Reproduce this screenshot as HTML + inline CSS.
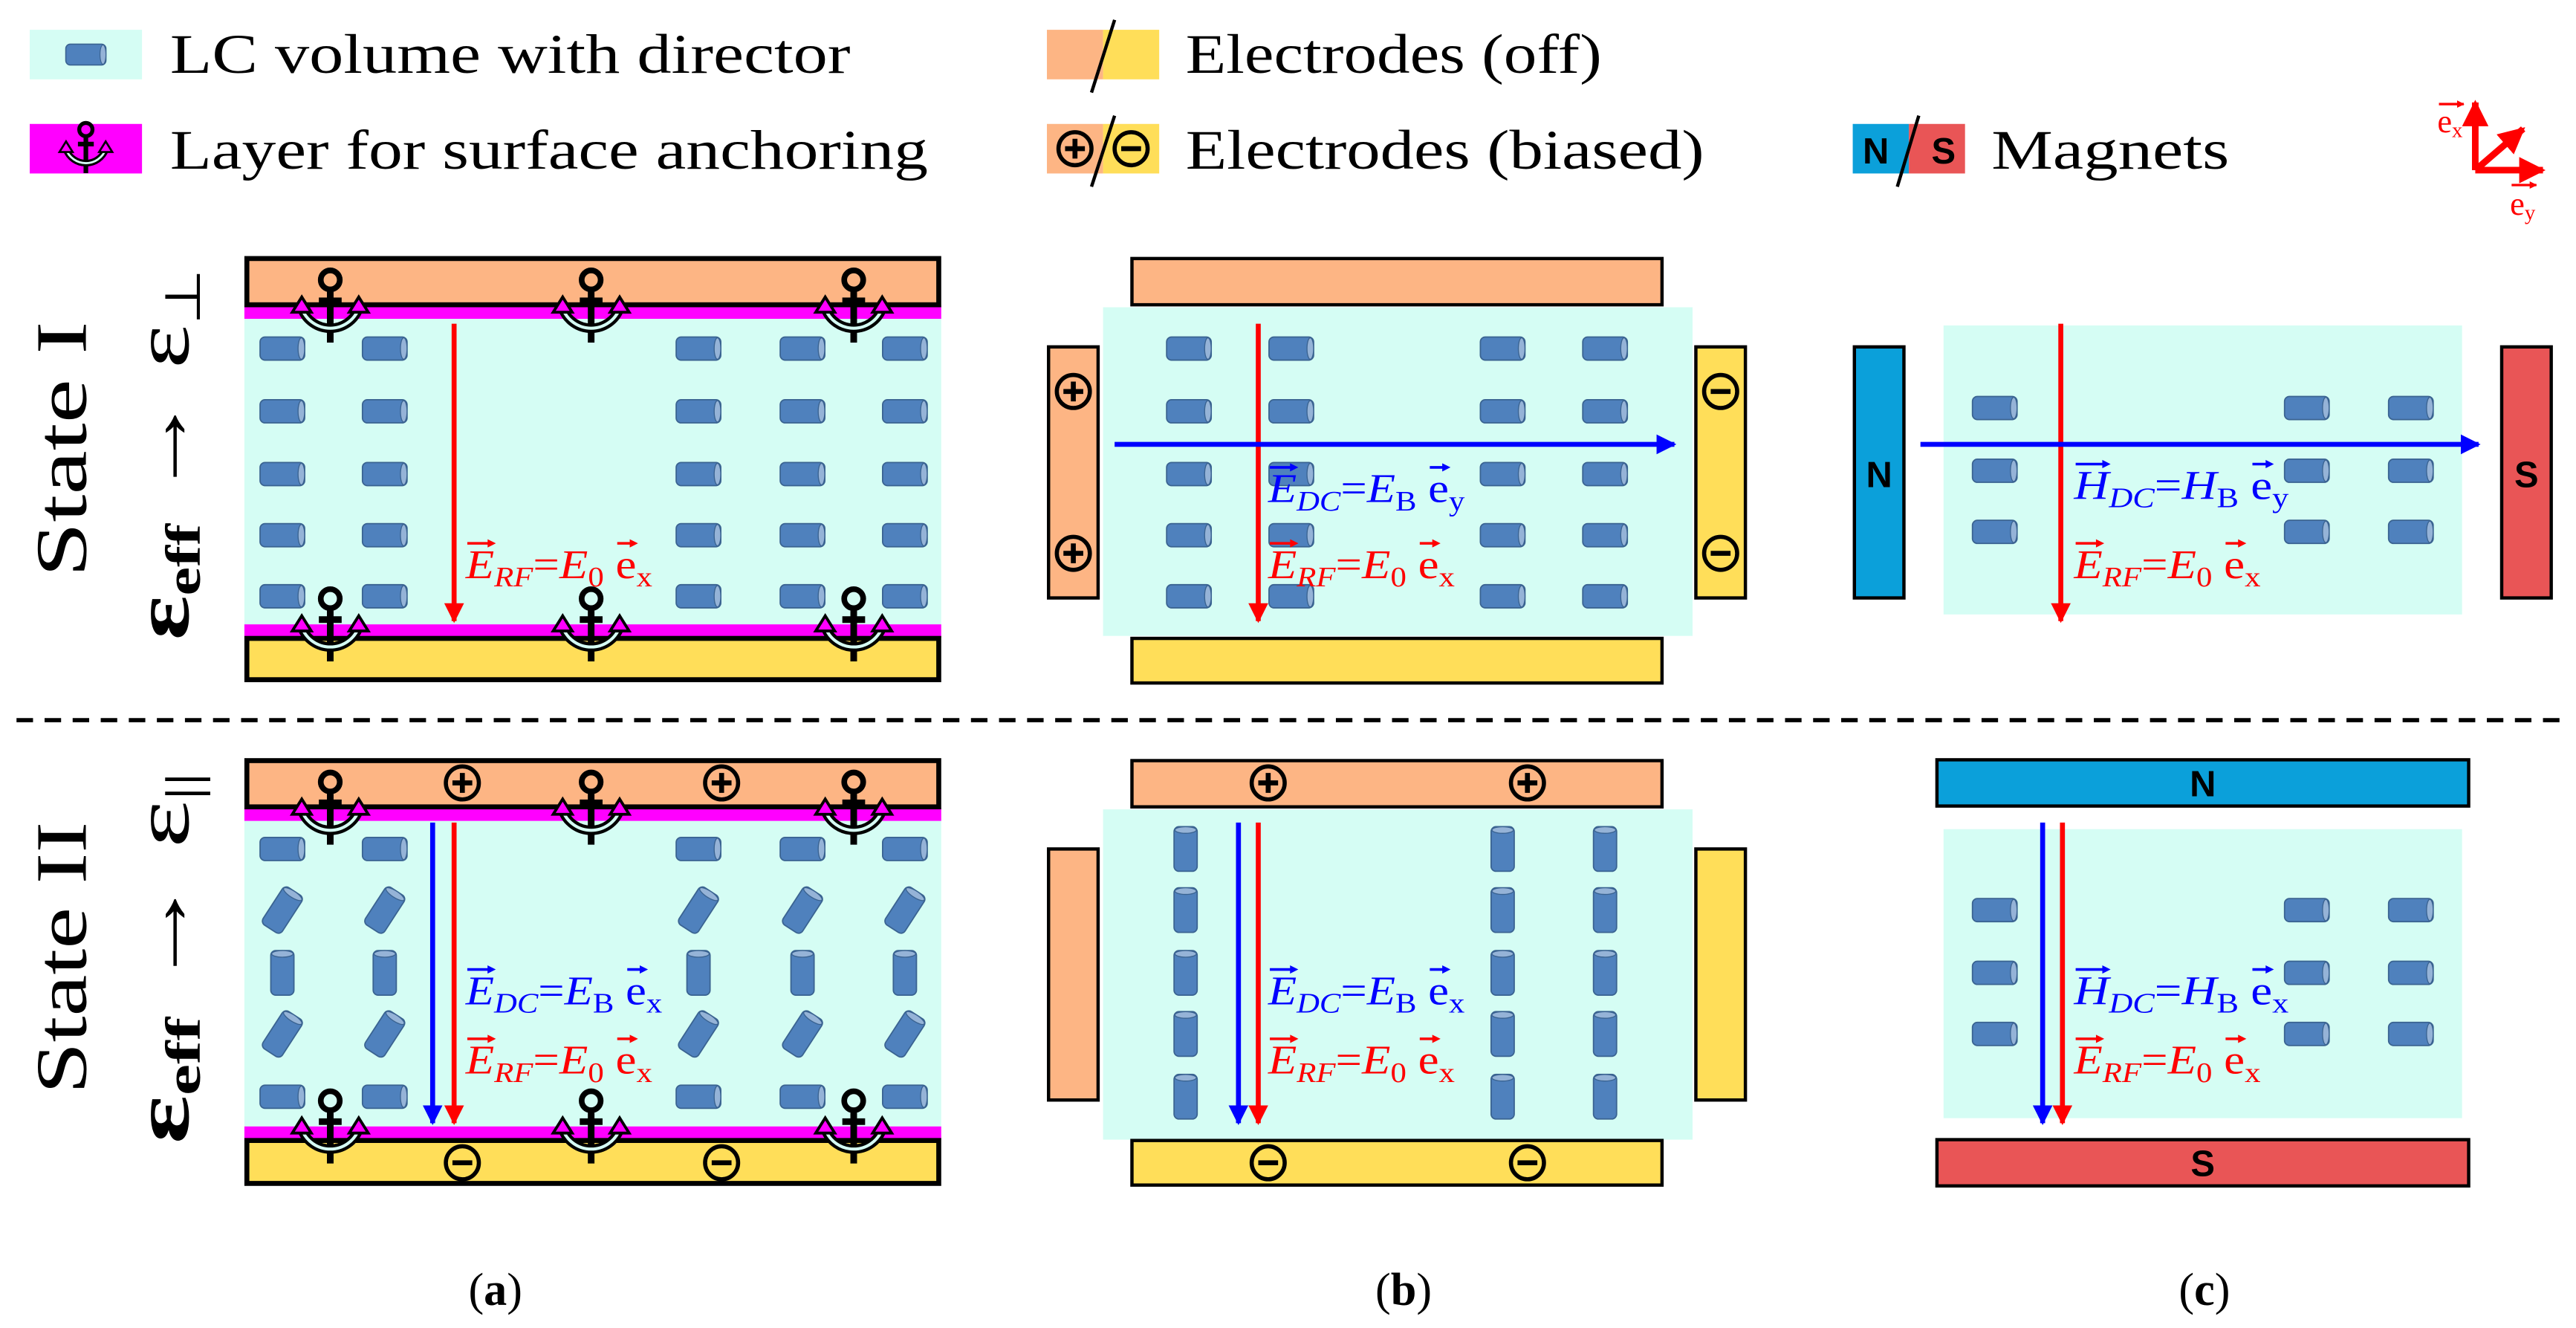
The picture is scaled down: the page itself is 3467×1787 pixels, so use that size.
<!DOCTYPE html>
<html><head><meta charset="utf-8">
<style>
html,body{margin:0;padding:0;background:#fff}
svg{display:block}
text{font-family:"Liberation Serif",serif}
.s{font-family:"Liberation Sans",sans-serif;font-weight:bold}
</style></head>
<body>
<svg id="s" width="3467" height="1787" viewBox="0 0 1560 804" xmlns="http://www.w3.org/2000/svg">
<defs>
<g id="mh"><rect x="-13.5" y="-7" width="27" height="14" rx="3" fill="#4F81BD" stroke="#3A6391" stroke-width="0.8"/><ellipse cx="11.5" cy="0" rx="2" ry="6.5" fill="#95B3D7" stroke="#3A6391" stroke-width="0.6"/></g>
<g id="pl"><circle r="10" fill="none" stroke="#000" stroke-width="2.5"/><path d="M-6 0H6M0 -6V6" stroke="#000" stroke-width="3"/></g>
<g id="mi"><circle r="10" fill="none" stroke="#000" stroke-width="2.5"/><path d="M-6 0H6" stroke="#000" stroke-width="3"/></g>
<g id="anc"><circle cx="0" cy="-17" r="5" fill="none" stroke="#000" stroke-width="3"/><path d="M0 -12V16M-6 -6H6" stroke="#000" stroke-width="3.5"/><path d="M-15 -2 A16 16 0 0 0 15 -2" fill="none" stroke="#000" stroke-width="5"/><path d="M-15 -2 A16 16 0 0 0 15 -2" fill="none" stroke="#D5FDF4" stroke-width="1.6"/><path d="M-20 0 L-15 -8 L-10 0Z M10 0 L15 -8 L20 0Z" fill="#FF00FF" stroke="#000" stroke-width="1.5"/></g>
<marker id="ar" viewBox="0 0 10 10" refX="9" refY="5" markerWidth="4" markerHeight="4" orient="auto"><path d="M0 0L10 5L0 10Z" fill="red"/></marker>
<marker id="ab" viewBox="0 0 10 10" refX="9" refY="5" markerWidth="4" markerHeight="4" orient="auto"><path d="M0 0L10 5L0 10Z" fill="blue"/></marker>
<marker id="ar2" viewBox="0 0 10 10" refX="9" refY="5" markerWidth="3" markerHeight="3" orient="auto"><path d="M0 0L10 5L0 10Z" fill="red"/></marker>
</defs>

<!-- legend -->
<rect x="18" y="18" width="68" height="30" fill="#D5FDF4"/>
<use href="#mh" transform="translate(52,33) scale(0.9)"/>
<text x="103" y="44" font-size="34" textLength="412" lengthAdjust="spacingAndGlyphs">LC volume with director</text>
<rect x="18" y="75" width="68" height="30" fill="#FF00FF"/>
<use href="#anc" transform="translate(52,92) scale(0.8)"/>
<text x="103" y="102" font-size="34" textLength="459" lengthAdjust="spacingAndGlyphs">Layer for surface anchoring</text>
<rect x="634" y="18" width="34" height="30" fill="#FDB584"/><rect x="668" y="18" width="34" height="30" fill="#FFDE59"/>
<line x1="675" y1="12" x2="661" y2="56" stroke="#000" stroke-width="2"/>
<text x="718" y="44" font-size="34" textLength="252" lengthAdjust="spacingAndGlyphs">Electrodes (off)</text>
<rect x="634" y="75" width="34" height="30" fill="#FDB584"/><rect x="668" y="75" width="34" height="30" fill="#FFDE59"/>
<use href="#pl" transform="translate(651,90)"/><use href="#mi" transform="translate(685,90)"/>
<line x1="675" y1="70" x2="661" y2="113" stroke="#000" stroke-width="2"/>
<text x="718" y="102" font-size="34" textLength="314" lengthAdjust="spacingAndGlyphs">Electrodes (biased)</text>
<rect x="1122" y="75" width="34" height="30" fill="#0BA0DA"/><rect x="1156" y="75" width="34" height="30" fill="#E95556"/>
<text class="s" x="1136" y="99" font-size="22" text-anchor="middle">N</text><text class="s" x="1177" y="99" font-size="22" text-anchor="middle">S</text>
<line x1="1162" y1="70" x2="1149" y2="113" stroke="#000" stroke-width="2"/>
<text x="1206" y="102" font-size="34" textLength="144" lengthAdjust="spacingAndGlyphs">Magnets</text>
<!-- axes -->
<g stroke="red" stroke-width="4" fill="none"><line x1="1499" y1="103" x2="1499" y2="62" marker-end="url(#ar)"/><line x1="1499" y1="103" x2="1540" y2="103" marker-end="url(#ar)"/><line x1="1499" y1="103" x2="1528" y2="78" marker-end="url(#ar)"/></g>
<text x="1476" y="80" font-size="20" fill="red">e<tspan font-size="13" dy="3">x</tspan></text>
<line x1="1477" y1="63" x2="1492" y2="63" stroke="red" stroke-width="1.5" marker-end="url(#ar2)"/>
<text x="1520" y="130" font-size="20" fill="red">e<tspan font-size="13" dy="3">y</tspan></text>
<line x1="1521" y1="112" x2="1536" y2="112" stroke="red" stroke-width="1.5" marker-end="url(#ar2)"/>

<!-- state labels -->
<text transform="translate(52,272) rotate(-90)" font-size="44" text-anchor="middle" textLength="155" lengthAdjust="spacingAndGlyphs">State I</text>
<text transform="translate(114,275) rotate(-90)" font-size="48" text-anchor="middle" textLength="225" lengthAdjust="spacingAndGlyphs"><tspan font-weight="bold">ε<tspan font-size="30" dy="7">eff</tspan></tspan><tspan dy="-7"> → ε</tspan><tspan font-size="30" dy="7">⊥</tspan></text>
<text transform="translate(52,580) rotate(-90)" font-size="44" text-anchor="middle" textLength="165" lengthAdjust="spacingAndGlyphs">State II</text>
<text transform="translate(114,580) rotate(-90)" font-size="48" text-anchor="middle" textLength="225" lengthAdjust="spacingAndGlyphs"><tspan font-weight="bold">ε<tspan font-size="30" dy="7">eff</tspan></tspan><tspan dy="-7"> → ε</tspan><tspan font-size="30" dy="7">||</tspan></text>

<line x1="10" y1="436" x2="1550" y2="436" stroke="#000" stroke-width="2.5" stroke-dasharray="10,7"/>

<!-- panel a I -->
<rect x="148" y="193" width="422" height="185" fill="#D5FDF4"/>
<rect x="148" y="185" width="422" height="8" fill="#FF00FF"/>
<rect x="148" y="378" width="422" height="8" fill="#FF00FF"/>
<rect x="149.5" y="156.5" width="419" height="28" fill="#FDB584" stroke="#000" stroke-width="3"/>
<rect x="149.5" y="386.5" width="419" height="25" fill="#FFDE59" stroke="#000" stroke-width="3"/>
<g id="ma1"></g>
<line x1="275" y1="196" x2="275" y2="376" stroke="red" stroke-width="3" marker-end="url(#ar)"/>
<text class="eq" x="282" y="350" font-size="25" fill="red" textLength="113" lengthAdjust="spacingAndGlyphs"><tspan font-style="italic">E</tspan><tspan font-style="italic" font-size="17" dy="5">RF</tspan><tspan dy="-5">=</tspan><tspan font-style="italic">E</tspan><tspan font-size="17" dy="5">0</tspan><tspan dy="-5"> e</tspan><tspan font-size="17" dy="5">x</tspan></text>

<!-- panel a II -->
<rect x="148" y="497" width="422" height="185" fill="#D5FDF4"/>
<rect x="148" y="489" width="422" height="8" fill="#FF00FF"/>
<rect x="148" y="682" width="422" height="8" fill="#FF00FF"/>
<rect x="149.5" y="460.5" width="419" height="28" fill="#FDB584" stroke="#000" stroke-width="3"/>
<rect x="149.5" y="690.5" width="419" height="26" fill="#FFDE59" stroke="#000" stroke-width="3"/>
<use href="#pl" transform="translate(280,474)"/><use href="#pl" transform="translate(437,474)"/>
<use href="#mi" transform="translate(280,704)"/><use href="#mi" transform="translate(437,704)"/>
<g id="ma2"></g>
<line x1="262" y1="498" x2="262" y2="680" stroke="blue" stroke-width="3" marker-end="url(#ab)"/>
<line x1="275" y1="498" x2="275" y2="680" stroke="red" stroke-width="3" marker-end="url(#ar)"/>
<text class="eq" x="282" y="608" font-size="25" fill="blue" textLength="119" lengthAdjust="spacingAndGlyphs"><tspan font-style="italic">E</tspan><tspan font-style="italic" font-size="17" dy="5">DC</tspan><tspan dy="-5">=</tspan><tspan font-style="italic">E</tspan><tspan font-size="17" dy="5">B</tspan><tspan dy="-5"> e</tspan><tspan font-size="17" dy="5">x</tspan></text>
<text class="eq" x="282" y="650" font-size="25" fill="red" textLength="113" lengthAdjust="spacingAndGlyphs"><tspan font-style="italic">E</tspan><tspan font-style="italic" font-size="17" dy="5">RF</tspan><tspan dy="-5">=</tspan><tspan font-style="italic">E</tspan><tspan font-size="17" dy="5">0</tspan><tspan dy="-5"> e</tspan><tspan font-size="17" dy="5">x</tspan></text>

<!-- panel b I -->
<rect x="668" y="186" width="357" height="199" fill="#D5FDF4"/>
<rect x="685.5" y="156.5" width="321" height="28" fill="#FDB584" stroke="#000" stroke-width="2"/>
<rect x="685.5" y="386.5" width="321" height="27" fill="#FFDE59" stroke="#000" stroke-width="2"/>
<rect x="635" y="210" width="30" height="152" fill="#FDB584" stroke="#000" stroke-width="2"/>
<rect x="1027" y="210" width="30" height="152" fill="#FFDE59" stroke="#000" stroke-width="2"/>
<use href="#pl" transform="translate(650,237)"/><use href="#pl" transform="translate(650,335)"/>
<use href="#mi" transform="translate(1042,237)"/><use href="#mi" transform="translate(1042,335)"/>
<g id="mb1"></g>
<line x1="762" y1="196" x2="762" y2="376" stroke="red" stroke-width="3" marker-end="url(#ar)"/>
<line x1="675" y1="269" x2="1014" y2="269" stroke="blue" stroke-width="3" marker-end="url(#ab)"/>
<text class="eq" x="768" y="304" font-size="25" fill="blue" textLength="119" lengthAdjust="spacingAndGlyphs"><tspan font-style="italic">E</tspan><tspan font-style="italic" font-size="17" dy="5">DC</tspan><tspan dy="-5">=</tspan><tspan font-style="italic">E</tspan><tspan font-size="17" dy="5">B</tspan><tspan dy="-5"> e</tspan><tspan font-size="17" dy="5">y</tspan></text>
<text class="eq" x="768" y="350" font-size="25" fill="red" textLength="113" lengthAdjust="spacingAndGlyphs"><tspan font-style="italic">E</tspan><tspan font-style="italic" font-size="17" dy="5">RF</tspan><tspan dy="-5">=</tspan><tspan font-style="italic">E</tspan><tspan font-size="17" dy="5">0</tspan><tspan dy="-5"> e</tspan><tspan font-size="17" dy="5">x</tspan></text>

<!-- panel b II -->
<rect x="668" y="490" width="357" height="200" fill="#D5FDF4"/>
<rect x="685.5" y="460.5" width="321" height="28" fill="#FDB584" stroke="#000" stroke-width="2"/>
<rect x="685.5" y="690.5" width="321" height="27" fill="#FFDE59" stroke="#000" stroke-width="2"/>
<rect x="635" y="514" width="30" height="152" fill="#FDB584" stroke="#000" stroke-width="2"/>
<rect x="1027" y="514" width="30" height="152" fill="#FFDE59" stroke="#000" stroke-width="2"/>
<use href="#pl" transform="translate(768,474)"/><use href="#pl" transform="translate(925,474)"/>
<use href="#mi" transform="translate(768,704)"/><use href="#mi" transform="translate(925,704)"/>
<g id="mb2"></g>
<line x1="750" y1="498" x2="750" y2="680" stroke="blue" stroke-width="3" marker-end="url(#ab)"/>
<line x1="762" y1="498" x2="762" y2="680" stroke="red" stroke-width="3" marker-end="url(#ar)"/>
<text class="eq" x="768" y="608" font-size="25" fill="blue" textLength="119" lengthAdjust="spacingAndGlyphs"><tspan font-style="italic">E</tspan><tspan font-style="italic" font-size="17" dy="5">DC</tspan><tspan dy="-5">=</tspan><tspan font-style="italic">E</tspan><tspan font-size="17" dy="5">B</tspan><tspan dy="-5"> e</tspan><tspan font-size="17" dy="5">x</tspan></text>
<text class="eq" x="768" y="650" font-size="25" fill="red" textLength="113" lengthAdjust="spacingAndGlyphs"><tspan font-style="italic">E</tspan><tspan font-style="italic" font-size="17" dy="5">RF</tspan><tspan dy="-5">=</tspan><tspan font-style="italic">E</tspan><tspan font-size="17" dy="5">0</tspan><tspan dy="-5"> e</tspan><tspan font-size="17" dy="5">x</tspan></text>

<!-- panel c I -->
<rect x="1177" y="197" width="314" height="175" fill="#D5FDF4"/>
<rect x="1123" y="210" width="30" height="152" fill="#0BA0DA" stroke="#000" stroke-width="2"/>
<rect x="1515" y="210" width="30" height="152" fill="#E95556" stroke="#000" stroke-width="2"/>
<text class="s" x="1138" y="295" font-size="22" text-anchor="middle">N</text>
<text class="s" x="1530" y="295" font-size="22" text-anchor="middle">S</text>
<g id="mc1"></g>
<line x1="1248" y1="196" x2="1248" y2="376" stroke="red" stroke-width="3" marker-end="url(#ar)"/>
<line x1="1163" y1="269" x2="1501" y2="269" stroke="blue" stroke-width="3" marker-end="url(#ab)"/>
<text class="eq" x="1256" y="302" font-size="25" fill="blue" textLength="130" lengthAdjust="spacingAndGlyphs"><tspan font-style="italic">H</tspan><tspan font-style="italic" font-size="17" dy="5">DC</tspan><tspan dy="-5">=</tspan><tspan font-style="italic">H</tspan><tspan font-size="17" dy="5">B</tspan><tspan dy="-5"> e</tspan><tspan font-size="17" dy="5">y</tspan></text>
<text class="eq" x="1256" y="350" font-size="25" fill="red" textLength="113" lengthAdjust="spacingAndGlyphs"><tspan font-style="italic">E</tspan><tspan font-style="italic" font-size="17" dy="5">RF</tspan><tspan dy="-5">=</tspan><tspan font-style="italic">E</tspan><tspan font-size="17" dy="5">0</tspan><tspan dy="-5"> e</tspan><tspan font-size="17" dy="5">x</tspan></text>

<!-- panel c II -->
<rect x="1177" y="502" width="314" height="175" fill="#D5FDF4"/>
<rect x="1173" y="460" width="322" height="28" fill="#0BA0DA" stroke="#000" stroke-width="2"/>
<rect x="1173" y="690" width="322" height="28" fill="#E95556" stroke="#000" stroke-width="2"/>
<text class="s" x="1334" y="482" font-size="22" text-anchor="middle">N</text>
<text class="s" x="1334" y="712" font-size="22" text-anchor="middle">S</text>
<g id="mc2"></g>
<line x1="1237" y1="498" x2="1237" y2="680" stroke="blue" stroke-width="3" marker-end="url(#ab)"/>
<line x1="1249" y1="498" x2="1249" y2="680" stroke="red" stroke-width="3" marker-end="url(#ar)"/>
<text class="eq" x="1256" y="608" font-size="25" fill="blue" textLength="130" lengthAdjust="spacingAndGlyphs"><tspan font-style="italic">H</tspan><tspan font-style="italic" font-size="17" dy="5">DC</tspan><tspan dy="-5">=</tspan><tspan font-style="italic">H</tspan><tspan font-size="17" dy="5">B</tspan><tspan dy="-5"> e</tspan><tspan font-size="17" dy="5">x</tspan></text>
<text class="eq" x="1256" y="650" font-size="25" fill="red" textLength="113" lengthAdjust="spacingAndGlyphs"><tspan font-style="italic">E</tspan><tspan font-style="italic" font-size="17" dy="5">RF</tspan><tspan dy="-5">=</tspan><tspan font-style="italic">E</tspan><tspan font-size="17" dy="5">0</tspan><tspan dy="-5"> e</tspan><tspan font-size="17" dy="5">x</tspan></text>

<g id="anchors"></g>
<g id="vec"></g>

<text x="300" y="790" font-size="28" text-anchor="middle">(<tspan font-weight="bold">a</tspan>)</text>
<text x="850" y="790" font-size="28" text-anchor="middle">(<tspan font-weight="bold">b</tspan>)</text>
<text x="1335" y="790" font-size="28" text-anchor="middle">(<tspan font-weight="bold">c</tspan>)</text>
</svg>
<script>
var NS="http://www.w3.org/2000/svg";
function m(g,x,y,a){var u=document.createElementNS(NS,"use");u.setAttribute("href","#mh");u.setAttribute("transform","translate("+x+","+y+") rotate("+a+")");document.getElementById(g).appendChild(u);}
var rows=[211,249,287,324,361],ra=[171,233,423,486,548];
ra.forEach(function(x){rows.forEach(function(y){m("ma1",x,y,0);});});
var rows2=[514,551,589,626,664],ang=[0,-57,-90,-57,0];
ra.forEach(function(x){rows2.forEach(function(y,i){m("ma2",x,y,ang[i]);});});
[720,782,910,972].forEach(function(x){rows.forEach(function(y){m("mb1",x,y,0);});});
[718,910,972].forEach(function(x){rows2.forEach(function(y){m("mb2",x,y,-90);});});
[1208,1397,1460].forEach(function(x){[247,285,322].forEach(function(y){m("mc1",x,y,0);});[551,589,626].forEach(function(y){m("mc2",x,y,0);});});
[200,358,517].forEach(function(x){[189,382,493,686].forEach(function(y){var u=document.createElementNS(NS,"use");u.setAttribute("href","#anc");u.setAttribute("transform","translate("+x+","+y+") scale(1.15)");document.getElementById("anchors").appendChild(u);});});
var vg=document.getElementById("vec");
document.querySelectorAll("text.eq").forEach(function(t){
  var col=t.getAttribute("fill");var s=t.textContent;
  var idx=[0,s.lastIndexOf("e")];
  idx.forEach(function(i){
    try{var b=t.getExtentOfChar(i);}catch(e){return;}
    var y=b.y+1, x1=b.x+1, x2=b.x+b.width+1;
    var l=document.createElementNS(NS,"line");
    l.setAttribute("x1",x1);l.setAttribute("y1",y);l.setAttribute("x2",x2-4);l.setAttribute("y2",y);
    l.setAttribute("stroke",col);l.setAttribute("stroke-width","1.6");vg.appendChild(l);
    var p=document.createElementNS(NS,"path");
    p.setAttribute("d","M"+(x2-5)+" "+(y-2.5)+"L"+x2+" "+y+"L"+(x2-5)+" "+(y+2.5)+"Z");
    p.setAttribute("fill",col);vg.appendChild(p);
  });
});
</script>
</body></html>
